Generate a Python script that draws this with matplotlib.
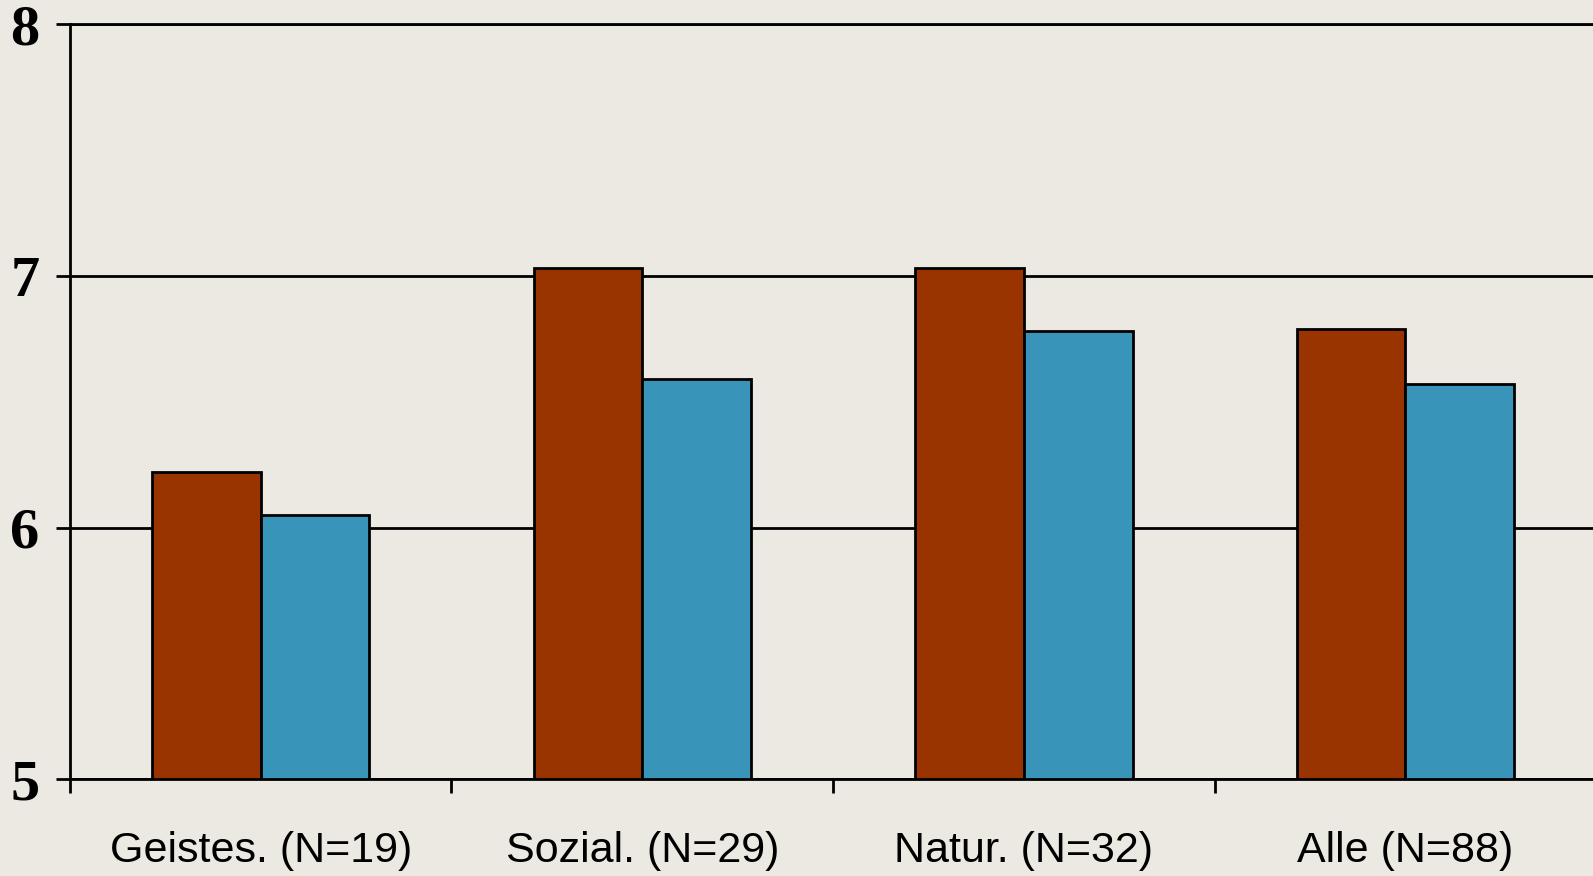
import matplotlib

matplotlib.use("Agg")
import matplotlib.pyplot as plt
import numpy as np

categories = ["Geistes. (N=19)", "Sozial. (N=29)", "Natur. (N=32)", "Alle (N=88)"]
series_a = [6.22, 7.03, 7.03, 6.79]
series_b = [6.05, 6.59, 6.78, 6.57]
y_ticks = [5, 6, 7, 8]

bg = "#ECE8E2"
red = "#993300"
blue = "#3894B8"

fig = plt.figure(figsize=(15.93, 8.76), dpi=100, facecolor=bg)
ax = fig.add_axes([0.0439, 0.1104, 0.9581, 0.8619], facecolor=bg)

x = np.arange(len(categories))
w = 0.285
ax.bar(x - w / 2, np.array(series_a) - 5, w, bottom=5, color=red,
       edgecolor="black", linewidth=2, zorder=3)
ax.bar(x + w / 2, np.array(series_b) - 5, w, bottom=5, color=blue,
       edgecolor="black", linewidth=2, zorder=3)

ax.set_xlim(-0.5, len(categories) - 0.5)
ax.set_ylim(5, 8)
ax.set_yticks(y_ticks)
ax.set_yticklabels([str(v) for v in y_ticks], fontfamily="Liberation Serif",
                   fontweight="bold", fontsize=42)
ax.tick_params(axis="y", length=10, width=2, pad=12)
ax.yaxis.grid(True, color="black", linewidth=2, zorder=1)

ax.set_xticks(x)
ax.set_xticklabels(categories, fontfamily="Liberation Sans", fontsize=31)
ax.tick_params(axis="x", which="major", length=0, pad=37)
ax.set_xticks(np.arange(-0.5, len(categories) - 0.5, 1.0), minor=True)
ax.tick_params(axis="x", which="minor", length=10, width=2)

for s in ["left", "bottom", "top"]:
    ax.spines[s].set_linewidth(2)
ax.spines["right"].set_visible(False)

fig.savefig("out.png", dpi=100, facecolor=bg)
